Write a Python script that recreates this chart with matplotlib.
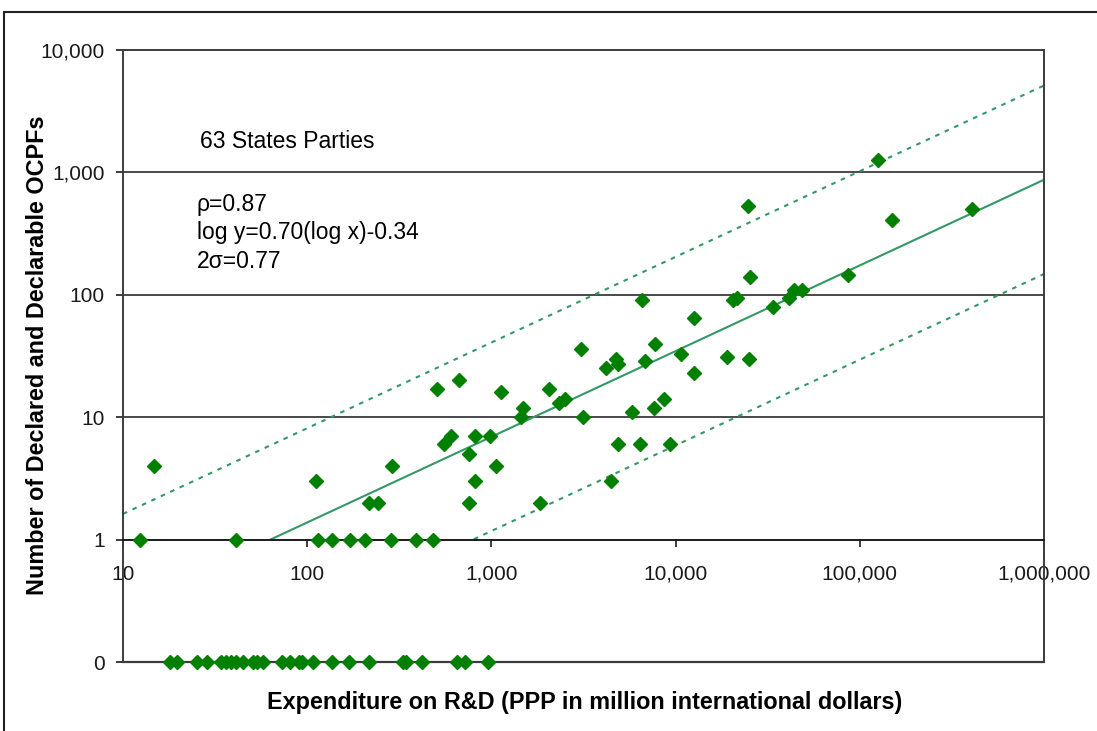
import numpy as np
import matplotlib
matplotlib.use("Agg")
import matplotlib.pyplot as plt
from matplotlib.patches import Rectangle
from matplotlib.ticker import FixedLocator, NullLocator

plt.rcParams['font.family'] = ['Liberation Sans', 'DejaVu Sans']

# ---- data ----
rd_expenditure = [
    14.8, 12.4, 40.9, 112, 114, 137, 170, 207, 217, 242, 290, 286, 388, 480,
    507, 663, 1130, 553, 604, 753, 811, 811, 753, 988, 1061, 1445, 1480, 2060,
    2336, 2517, 1845, 3064, 3127, 4184, 4760, 4864, 4432, 4880, 6370, 5834,
    6532, 6806, 7762, 7625, 8674, 9268, 10640, 12640, 12640, 18900, 25240,
    25120, 20560, 21600, 33800, 41300, 44150, 48400, 86100, 125300, 150000,
    406400, 24700,
    18.0, 19.7, 25.2, 28.6, 34.1, 36.3, 38.6, 41.1, 44.9, 50.9, 53.5, 57.7,
    73.1, 80.8, 90.5, 93.9, 107.8, 136.7, 169.2, 217, 332, 345, 422, 654, 722,
    964,
]
ocpf_count = [
    4, 1, 1, 3, 1, 1, 1, 1, 2, 2, 4, 1, 1, 1,
    17, 20, 16, 6, 7, 5, 7, 3, 2, 7, 4, 10, 12, 17,
    13, 14, 2, 36, 10, 25, 30, 27, 3, 6, 6, 11,
    90, 29, 40, 12, 14, 6, 33, 65, 23, 31, 140,
    30, 90, 94, 80, 94, 110, 110, 145, 1270, 409,
    500, 535,
    0, 0, 0, 0, 0, 0, 0, 0, 0, 0, 0, 0,
    0, 0, 0, 0, 0, 0, 0, 0, 0, 0, 0, 0, 0,
    0,
]
x_ticks = [10, 100, 1000, 10000, 100000, 1000000]
x_tick_labels = ["10", "100", "1,000", "10,000", "100,000", "1,000,000"]
y_ticks = [0.1, 1, 10, 100, 1000, 10000]
y_tick_labels = ["0", "1", "10", "100", "1,000", "10,000"]

fit_slope = 0.70
fit_intercept = -1.26
band_2sigma = 0.77

annot_title = "63 States Parties"
annot_lines = ["\u03c1=0.87", "log y=0.70(log x)-0.34", "2\u03c3=0.77"]

ZERO_LEVEL = 0.1  # where "0" sits on the log axis

# ---- figure ----
W, H = 1097, 731
fig = plt.figure(figsize=(W / 100, H / 100), dpi=100)
ax = fig.add_axes([123 / W, 1 - 662 / H, 921 / W, 612 / H])

x = np.array(rd_expenditure, float)
y = np.array(ocpf_count, float)
y_plot = np.where(y == 0, ZERO_LEVEL, y)

ax.set_xscale("log")
ax.set_yscale("log")
ax.set_xlim(10, 1e6)
ax.set_ylim(0.1, 1e4)

line_col = "#339966"
grid_col = "#3c3c3c"

# gridlines
for gy in [10, 100, 1000]:
    ax.axhline(gy, color=grid_col, lw=1.3, zorder=1)
ax.axhline(ZERO_LEVEL, color=grid_col, lw=1.6, zorder=1, clip_on=False)

# regression and band
lx = np.linspace(1, 6, 400)
ly = fit_slope * lx + fit_intercept
for off, ls in [(0, '-'), (band_2sigma, (0, (2.2, 2.8))), (-band_2sigma, (0, (2.2, 2.8)))]:
    yy = ly + off
    m = yy >= 0
    ax.plot(10 ** lx[m], 10 ** yy[m], color=line_col, lw=1.5, ls=ls, zorder=2)

ax.plot(x, y_plot, ls='none', marker='D', ms=7.2, color="#008000",
        markeredgecolor="#008000", zorder=4, clip_on=False)

# spines
for s in ['left', 'right', 'top', 'bottom']:
    ax.spines[s].set_color(grid_col)
    ax.spines[s].set_linewidth(1.4)
ax.spines['bottom'].set_position(('data', 1))
ax.spines['bottom'].set_color('#1a1a1a')

ax.xaxis.set_major_locator(FixedLocator(x_ticks))
ax.xaxis.set_minor_locator(NullLocator())
ax.set_xticklabels(x_tick_labels)
ax.yaxis.set_major_locator(FixedLocator(y_ticks))
ax.yaxis.set_minor_locator(NullLocator())
ax.set_yticklabels(y_tick_labels)
ax.tick_params(axis='x', direction='out', length=5, width=1.2, pad=13,
               labelsize=15, colors='#1a1a1a')
ax.tick_params(axis='y', direction='out', length=5, width=1.2, pad=8,
               labelsize=15, colors='#1a1a1a')

# axis titles
fig.text(585 / W, 1 - 703 / H,
         "Expenditure on R&D (PPP in million international dollars)",
         ha='center', va='center', fontsize=16.8, fontweight='bold')
fig.text(38 / W, 1 - 355 / H, "Number of Declared and Declarable OCPFs",
         ha='center', va='center', rotation=90, fontsize=16.8, fontweight='bold')

# annotations
fig.text(200 / W, 1 - 141 / H, annot_title, ha='left', va='center', fontsize=16.5)
for i, t in enumerate(annot_lines):
    fig.text(197 / W, 1 - (205 + 28 * i) / H, t, ha='left', va='center', fontsize=16.5)

# chart-area border
fig.add_artist(Rectangle((4, -20), W + 20, 731 - 12 + 20, transform=None,
                         fill=False, edgecolor='#222222', lw=1.5))

fig.savefig("out.png", dpi=100)
